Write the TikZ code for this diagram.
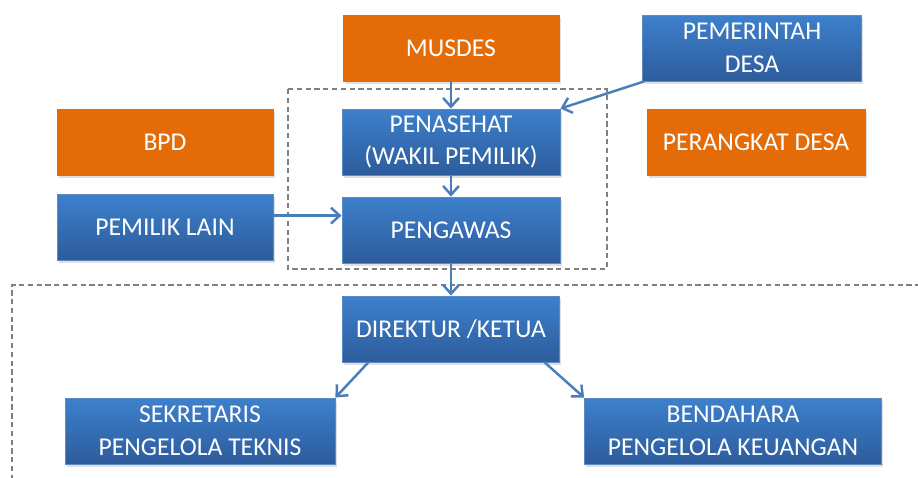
\documentclass[tikz,border=0pt]{standalone}
\usepackage{fontspec}
\setmainfont{Carlito}
\usepackage{tikz}
\usetikzlibrary{arrows.meta,calc,shadows}

\definecolor{oranye}{HTML}{E36C09}
\definecolor{biruatas}{HTML}{3D80CC}
\definecolor{birubawah}{HTML}{2D5C9C}
\definecolor{garis}{HTML}{4A7EBB}
\definecolor{tepi}{HTML}{5B8BC6}
\definecolor{putus}{HTML}{808080}

\begin{document}
\begin{tikzpicture}[x=0.02cm,y=-0.02cm,
	kotak/.style={draw=tepi,line width=0.5pt,text=white,align=center,inner sep=0pt,
		font=\fontsize{14.6}{18.5}\selectfont,minimum height=1.32cm,
		drop shadow={shadow xshift=1pt,shadow yshift=-1.5pt,opacity=0.25}},
	biru/.style={kotak,top color=biruatas,bottom color=birubawah},
	jingga/.style={kotak,fill=oranye},
	panah/.style={draw=garis,line width=1.4pt,-{Straight Barb[length=5pt,width=9pt]}},
	batas/.style={draw=putus,line width=0.7pt,dash pattern=on 3pt off 2pt}]
		\useasboundingbox (0,0) rectangle (918,477);
		% kelompok pengawasan
		\draw[batas] (288,89) rectangle (607,269);
		\draw[batas] (12,480) -- (12,285) -- (920,285);
		
		\node[jingga,minimum width=4.32cm] (musdes) at (451,48) {MUSDES};
		\node[biru,minimum width=4.38cm] (pemdes) at (752,48) {PEMERINTAH\\DESA};
		\node[jingga,minimum width=4.32cm] (bpd) at (165,142) {BPD};
		\node[biru,minimum width=4.36cm] (penasehat) at (451,142) {PENASEHAT\\(WAKIL PEMILIK)};
		\node[jingga,minimum width=4.36cm] (perangkat) at (756,142) {PERANGKAT DESA};
		\node[biru,minimum width=4.32cm] (pemilik) at (165,227) {PEMILIK LAIN};
		\node[biru,minimum width=4.36cm] (pengawas) at (451,230) {PENGAWAS};
		\node[biru,minimum width=4.34cm] (direktur) at (451,329) {DIREKTUR /KETUA};
		\node[biru,minimum width=5.4cm] (sekretaris) at (200,431) {SEKRETARIS\\PENGELOLA TEKNIS};
		\node[biru,minimum width=5.94cm] (bendahara) at (733,431) {BENDAHARA\\PENGELOLA KEUANGAN};
		
		\draw[panah] (musdes) -- (penasehat);
		\draw[panah] (penasehat) -- (pengawas);
		\draw[panah] (pengawas) -- (direktur);
		\draw[panah] ($(pemdes.south west)+(2,0)$) -- (penasehat.north east);
		\draw[panah] (pemilik.6) -- (pemilik.6 -| pengawas.west);
		\draw[panah] ($(direktur.south west)!0.12!(direktur.south east)$) -- (sekretaris.north east);
		\draw[panah] ($(direktur.south west)!0.93!(direktur.south east)$) -- (bendahara.north west);
	\end{tikzpicture}
\end{document}
